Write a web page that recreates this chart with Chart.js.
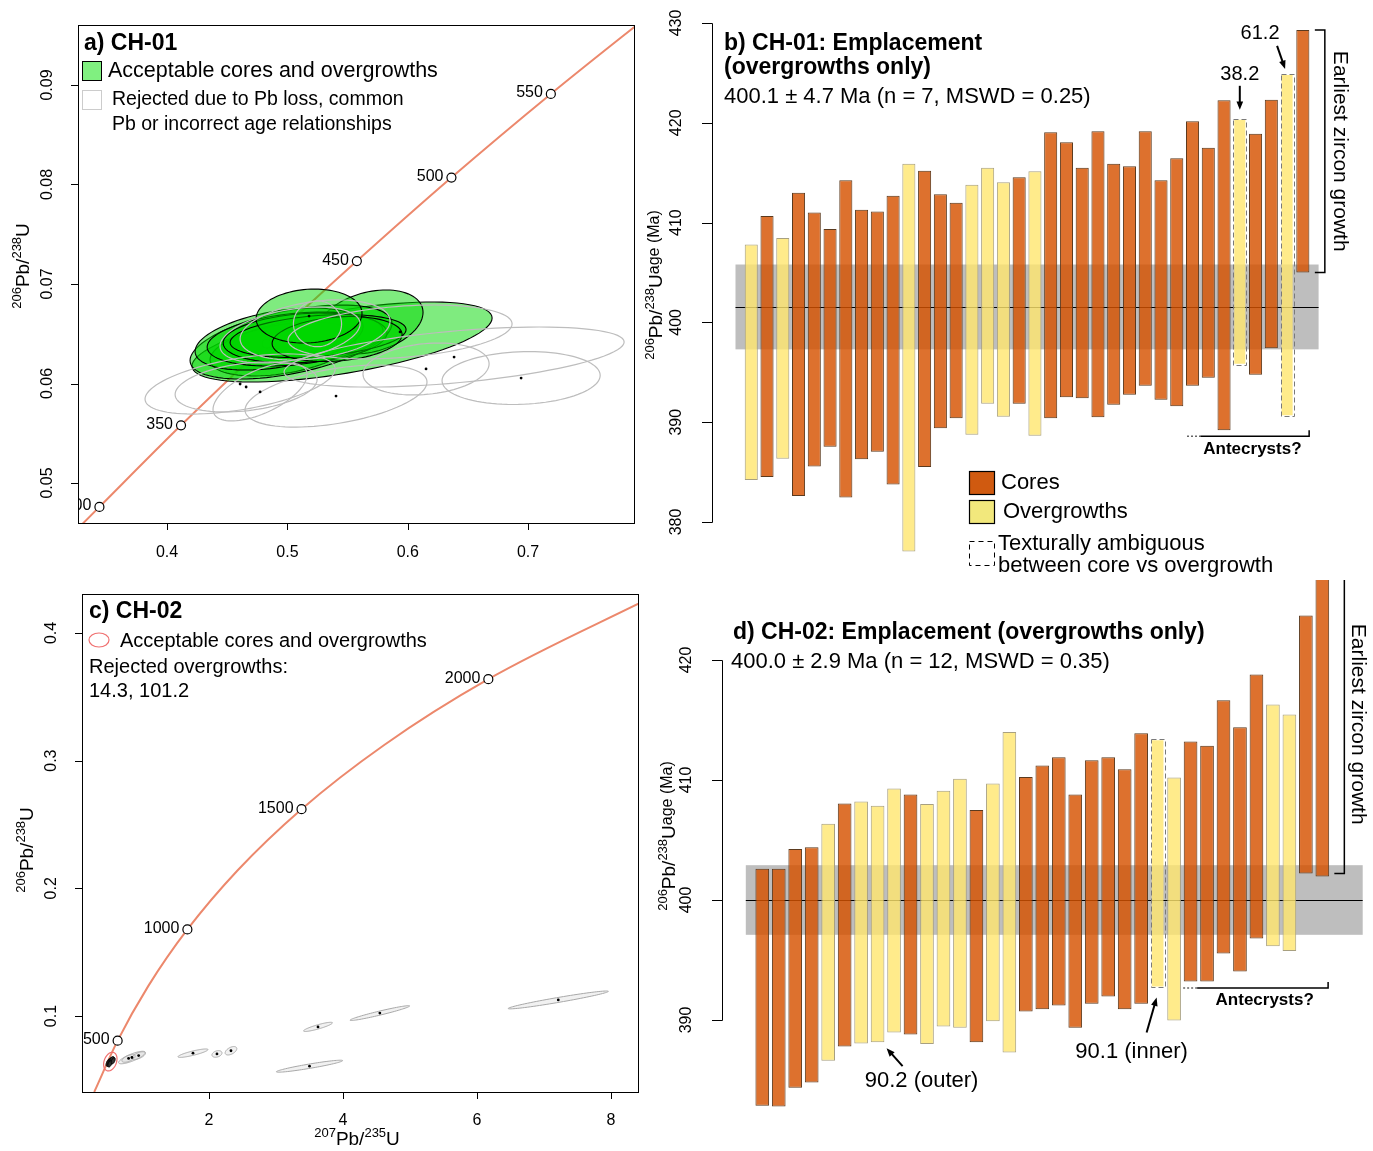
<!DOCTYPE html>
<html lang="en">
<head>
<meta charset="utf-8">
<title>CH-01 / CH-02 zircon U-Pb</title>
<script src="https://cdn.jsdelivr.net/npm/chart.js@4.4.1/dist/chart.umd.min.js"></script>
<style>
  body { margin: 0; background: #fff; width: 1373px; height: 1151px; overflow: hidden; position: relative; }
  canvas { position: absolute; }
</style>
</head>
<body>
<canvas id="chartA" width="650" height="580" style="left:0;top:0"></canvas>
<canvas id="chartC" width="650" height="571" style="left:0;top:580px"></canvas>
<canvas id="chartB" width="733" height="585" style="left:640px;top:0"></canvas>
<canvas id="chartD" width="733" height="571" style="left:640px;top:580px"></canvas>
<script>
// ---- a) CH-01 concordia ----
const concAgesA = [280, 300, 350, 400, 450, 500, 550, 600];
const concXA = [0.3175, 0.3438, 0.4116, 0.4828, 0.5577, 0.6363, 0.7189, 0.8056];
const concYA = [0.0444, 0.0476, 0.0558, 0.0640, 0.0723, 0.0807, 0.0891, 0.0975];
const markAgesA = [300, 350, 400, 450, 500, 550];
const ticksAX = [0.4, 0.5, 0.6, 0.7];
const ticksAY = [0.05, 0.06, 0.07, 0.08, 0.09];
// ellipses: [207Pb/235U, 206Pb/238U, half width, half height, correlation]
const acceptedA = [
  [0.5454, 0.06417, 0.1247, 0.00402, 0.6],
  [0.5687, 0.06618, 0.0440, 0.00322, 0.3],
  [0.4964, 0.06347, 0.0607, 0.00271, 0.4],
  [0.5030, 0.06417, 0.0839, 0.00372, 0.5],
  [0.4931, 0.06447, 0.0698, 0.00312, 0.4],
  [0.5064, 0.06447, 0.0731, 0.00271, 0.3],
  [0.5147, 0.06457, 0.0681, 0.00251, 0.2],
  [0.5255, 0.06477, 0.0731, 0.00216, 0.3],
  [0.5413, 0.06447, 0.0540, 0.00226, 0.2],
  [0.5180, 0.06678, 0.0440, 0.00271, 0.1]
];
const rejectedA = [
  [0.4607, 0.05995, 0.0790, 0.00302, 0.5],
  [0.5404, 0.05874, 0.0756, 0.00312, 0.45],
  [0.4657, 0.05965, 0.0590, 0.00251, 0.3],
  [0.4773, 0.05915, 0.0391, 0.00291, 0.6],
  [0.6152, 0.06146, 0.0524, 0.00261, 0.2],
  [0.6942, 0.06055, 0.0657, 0.00266, 0.1],
  [0.6385, 0.06266, 0.1413, 0.00302, 0.5],
  [0.5936, 0.06518, 0.0931, 0.00271, 0.3],
  [0.5230, 0.06538, 0.0623, 0.00302, 0.3],
  [0.5022, 0.06487, 0.0582, 0.00281, 0.4],
  [0.5250, 0.06600, 0.0200, 0.00230, 0.0]
];

// ---- b) CH-01 ages ----
const typeB = ['o','c','o','c','c','c','c','c','c','c','o','c','c','c','o','o','o','c','o','c',
               'c','c','c','c','c','c','c','c','c','c','c','a','c','c','a','c'];
const lowB = [384.2, 384.5, 386.35, 382.6, 385.55, 387.55, 382.45, 386.3, 387.05, 383.75, 377.05, 385.5,
              389.4, 390.4, 388.75, 391.85, 390.55, 391.85, 388.65, 390.4, 392.5, 392.4, 390.5, 391.75,
              392.75, 393.65, 392.25, 391.6, 393.65, 394.45, 389.2, 395.75, 394.75, 397.4, 390.6, 405.0];
const highB = [407.8, 410.65, 408.45, 413.0, 411.0, 409.35, 414.25, 411.3, 411.1, 412.7, 415.9, 415.2,
               412.85, 412.0, 413.8, 415.5, 414.05, 414.55, 415.15, 419.05, 418.05, 415.5, 419.15, 415.9,
               415.65, 419.15, 414.25, 416.45, 420.15, 417.5, 422.25, 420.4, 418.9, 422.3, 424.9, 429.3];
const meanB = 401.55;
const bandB = [397.3, 405.8];
const ticksB = [380, 390, 400, 410, 420, 430];

// ---- c) CH-02 concordia ----
const concAgesC = [256, 500, 750, 1000, 1250, 1500, 1750, 2000, 2300];
const concXC = [0.2868, 0.6363, 1.0930, 1.6774, 2.4250, 3.3812, 4.6044, 6.1691, 8.633];
const concYC = [0.0405, 0.0807, 0.1234, 0.1678, 0.2140, 0.2620, 0.3119, 0.3638, 0.4287];
const markAgesC = [500, 1000, 1500, 2000];
const ticksCX = [2, 4, 6, 8];
const ticksCY = [0.1, 0.2, 0.3, 0.4];
const acceptedC = [
  [0.50, 0.0635, 0.035, 0.0030, 0.5],
  [0.53, 0.0645, 0.040, 0.0032, 0.5],
  [0.55, 0.0655, 0.035, 0.0028, 0.5],
  [0.52, 0.0625, 0.030, 0.0025, 0.5],
  [0.57, 0.0650, 0.030, 0.0025, 0.5]
];
const envelopeC = [0.527, 0.0643, 0.10, 0.0073, 0.3];
const rejectedC = [
  [7.213, 0.1126, 0.748, 0.0070, 0.96],
  [4.55, 0.1023, 0.445, 0.0058, 0.96],
  [3.627, 0.0915, 0.216, 0.0036, 0.88],
  [3.50, 0.0607, 0.495, 0.0047, 0.93],
  [1.761, 0.0709, 0.224, 0.0033, 0.85],
  [2.119, 0.0703, 0.075, 0.0026, 0.3],
  [2.328, 0.0728, 0.087, 0.0033, 0.5],
  [0.85, 0.0675, 0.20, 0.0049, 0.8],
  [0.80, 0.0668, 0.10, 0.0030, 0.6],
  [0.95, 0.0690, 0.10, 0.0030, 0.6]
];

// ---- d) CH-02 ages ----
const typeD = ['c','c','c','c','o','c','o','o','o','c','o','o','o','c','o','o','c','c','c','c',
               'c','c','c','c','a','o','c','c','c','c','c','o','o','c','c'];
const lowD = [382.85, 382.8, 384.35, 384.8, 386.6, 387.8, 388.05, 388.15, 388.95, 388.8, 388.0, 389.45,
              389.35, 388.15, 389.9, 387.3, 390.7, 390.9, 391.2, 389.35, 391.35, 391.95, 390.9, 391.35,
              392.7, 389.95, 393.2, 393.2, 395.55, 394.05, 396.8, 396.15, 395.75, 402.2, 401.95];
const highD = [402.6, 402.6, 404.25, 404.4, 406.35, 408.05, 408.2, 407.85, 409.3, 408.8, 408.0, 409.1,
               410.1, 407.5, 409.7, 414.0, 410.25, 411.2, 411.9, 408.8, 411.65, 411.9, 410.9, 413.9,
               413.4, 410.2, 413.2, 412.85, 416.65, 414.4, 418.8, 416.3, 415.45, 423.7, 427.1];
const meanD = 400.0;
const bandD = [397.1, 402.9];
const ticksD = [390, 400, 410, 420];

const FONT = "'Liberation Sans', Arial, Helvetica, sans-serif";
const TICK_SIZE = 16;
const CORE_FILL = 'rgba(214, 82, 0, 0.82)';
const CORE_EDGE = '#5b3a1e';
const OG_FILL = 'rgba(255, 230, 110, 0.8)';
const OG_EDGE = '#a8a080';
const CONC = 'rgb(236, 136, 108)';

function txt(ctx, s, x, y, size, opts) {
  opts = opts || {};
  ctx.save();
  ctx.font = (opts.bold ? 'bold ' : '') + size + 'px ' + FONT;
  ctx.fillStyle = opts.color || '#000';
  ctx.textAlign = opts.align || 'left';
  ctx.textBaseline = 'middle';
  ctx.translate(x, y);
  if (opts.rot) ctx.rotate(opts.rot);
  ctx.fillText(s, 0, 0);
  ctx.restore();
}

// axis title with superscripts, centred on (x, y); parts = [text, size, raise]
function ratioLabel(ctx, parts, x, y, rot) {
  ctx.save();
  ctx.translate(x, y);
  if (rot) ctx.rotate(rot);
  ctx.textBaseline = 'alphabetic';
  ctx.fillStyle = '#000';
  let w = 0;
  const ws = parts.map(p => {
    ctx.font = p[1] + 'px ' + FONT;
    const m = ctx.measureText(p[0]).width;
    w += m;
    return m;
  });
  let cx = -w / 2;
  parts.forEach((p, i) => {
    ctx.font = p[1] + 'px ' + FONT;
    ctx.fillText(p[0], cx, 7 - p[2]);
    cx += ws[i];
  });
  ctx.restore();
}
const PB206 = [['206', 13, 8], ['Pb/', 19, 0], ['238', 13, 8], ['U', 19, 0]];
const PB207 = [['207', 13, 8], ['Pb/', 19, 0], ['235', 13, 8], ['U', 19, 0]];
const AGE_TITLE = PB206.concat([['age (Ma)', 16, 3]]);

// R style axes
function yAxisR(ctx, scale, ticks, xLine, labelX, len, withLine) {
  ctx.save();
  ctx.strokeStyle = '#000';
  ctx.lineWidth = 1;
  ctx.beginPath();
  if (withLine) {
    ctx.moveTo(xLine + 0.5, Math.round(scale.getPixelForValue(ticks[0])) + 0.5);
    ctx.lineTo(xLine + 0.5, Math.round(scale.getPixelForValue(ticks[ticks.length - 1])) + 0.5);
  }
  ticks.forEach(v => {
    const py = Math.round(scale.getPixelForValue(v)) + 0.5;
    ctx.moveTo(xLine - len, py);
    ctx.lineTo(xLine + 0.5, py);
  });
  ctx.stroke();
  ctx.restore();
  ticks.forEach(v => txt(ctx, String(v), labelX, scale.getPixelForValue(v), TICK_SIZE, {align: 'center', rot: -Math.PI / 2}));
}
function xAxisR(ctx, scale, ticks, yLine, labelY) {
  ctx.save();
  ctx.strokeStyle = '#000';
  ctx.lineWidth = 1;
  ctx.beginPath();
  ticks.forEach(v => {
    const px = Math.round(scale.getPixelForValue(v)) + 0.5;
    ctx.moveTo(px, yLine);
    ctx.lineTo(px, yLine + 7);
  });
  ctx.stroke();
  ctx.restore();
  ticks.forEach(v => txt(ctx, String(v), scale.getPixelForValue(v), labelY, TICK_SIZE, {align: 'center'}));
}
function box(ctx, a) {
  ctx.save();
  ctx.strokeStyle = '#000';
  ctx.lineWidth = 1;
  ctx.strokeRect(Math.round(a.left) + 0.5, Math.round(a.top) + 0.5, Math.round(a.right - a.left), Math.round(a.bottom - a.top));
  ctx.restore();
}

function ellipsePath(ctx, xs, ys, e) {
  const [cx, cy, rx, ry, rho] = e;
  const s = Math.sqrt(1 - rho * rho);
  ctx.beginPath();
  for (let k = 0; k <= 90; k++) {
    const t = k / 90 * 2 * Math.PI;
    const px = xs.getPixelForValue(cx + rx * Math.cos(t));
    const py = ys.getPixelForValue(cy + ry * (rho * Math.cos(t) + s * Math.sin(t)));
    if (k) ctx.lineTo(px, py); else ctx.moveTo(px, py);
  }
  ctx.closePath();
}
function centreDots(ctx, xs, ys, list) {
  ctx.fillStyle = '#000';
  list.forEach(e => {
    ctx.beginPath();
    ctx.arc(xs.getPixelForValue(e[0]), ys.getPixelForValue(e[1]), 1.4, 0, 2 * Math.PI);
    ctx.fill();
  });
}
function ageLabels(ctx, xs, ys, ages, concAges, cx, cy) {
  ages.forEach(age => {
    const i = concAges.indexOf(age);
    txt(ctx, String(age), xs.getPixelForValue(cx[i]) - 8, ys.getPixelForValue(cy[i]) - 1, 16, {align: 'right'});
  });
}
function concordiaChart(id, ages, cx, cy, marks, xr, yr, pad, deco) {
  return new Chart(document.getElementById(id), {
    type: 'scatter',
    data: {
      datasets: [{
        data: marks.map(a => ({x: cx[ages.indexOf(a)], y: cy[ages.indexOf(a)]})),
        pointRadius: 4.5,
        pointBackgroundColor: '#fff',
        pointBorderColor: '#000',
        pointBorderWidth: 1.2
      }, {
        data: ages.map((a, i) => ({x: cx[i], y: cy[i]})),
        showLine: true,
        pointRadius: 0,
        borderColor: CONC,
        borderWidth: 2,
        cubicInterpolationMode: 'monotone'
      }]
    },
    options: {
      responsive: false, animation: false, events: [],
      layout: {padding: pad},
      plugins: {legend: {display: false}, tooltip: {enabled: false}},
      scales: {
        x: {type: 'linear', min: xr[0], max: xr[1], display: false},
        y: {type: 'linear', min: yr[0], max: yr[1], display: false}
      }
    },
    plugins: [deco]
  });
}

// ---- bar panels ----
function drawBand(chart, band, mean) {
  const {ctx, chartArea: a, scales: {y}} = chart;
  ctx.save();
  ctx.fillStyle = '#BEBEBE';
  const y1 = y.getPixelForValue(band[1]), y0 = y.getPixelForValue(band[0]);
  ctx.fillRect(a.left, y1, a.right - a.left, y0 - y1);
  ctx.strokeStyle = '#000';
  ctx.lineWidth = 1;
  const ym = Math.round(y.getPixelForValue(mean)) + 0.5;
  ctx.beginPath();
  ctx.moveTo(a.left, ym);
  ctx.lineTo(a.right, ym);
  ctx.stroke();
  ctx.restore();
}
function dashedBars(chart, types) {
  const ctx = chart.ctx;
  const meta = chart.getDatasetMeta(0);
  ctx.save();
  ctx.strokeStyle = '#7a7a7a';
  ctx.lineWidth = 1;
  ctx.setLineDash([5, 3]);
  types.forEach((t, i) => {
    if (t !== 'a') return;
    const el = meta.data[i];
    const top = Math.min(el.y, el.base), h = Math.abs(el.base - el.y);
    ctx.strokeRect(Math.round(el.x - el.width / 2) + 0.5, Math.round(top) + 0.5, Math.round(el.width), Math.round(h));
  });
  ctx.restore();
}
function arrow(ctx, x1, y1, x2, y2) {
  const ang = Math.atan2(y2 - y1, x2 - x1), L = 9;
  ctx.save();
  ctx.strokeStyle = '#000';
  ctx.fillStyle = '#000';
  ctx.lineWidth = 2;
  ctx.beginPath();
  ctx.moveTo(x1, y1);
  ctx.lineTo(x2 - Math.cos(ang) * 5, y2 - Math.sin(ang) * 5);
  ctx.stroke();
  ctx.beginPath();
  ctx.moveTo(x2, y2);
  ctx.lineTo(x2 - L * Math.cos(ang - 0.38), y2 - L * Math.sin(ang - 0.38));
  ctx.lineTo(x2 - L * Math.cos(ang + 0.38), y2 - L * Math.sin(ang + 0.38));
  ctx.closePath();
  ctx.fill();
  ctx.restore();
}
function vBracket(ctx, x, y1, y2, dx) {
  ctx.save();
  ctx.strokeStyle = '#000';
  ctx.lineWidth = 1.5;
  ctx.beginPath();
  ctx.moveTo(x - 10, y1);
  ctx.lineTo(x, y1);
  ctx.lineTo(x, y2);
  ctx.lineTo(x - 10, y2);
  ctx.stroke();
  ctx.restore();
  txt(ctx, 'Earliest zircon growth', x + dx, (y1 + y2) / 2, 21, {align: 'center', rot: Math.PI / 2});
}
function antecrysts(ctx, xDot, xStart, xEnd, yLine, yTick, tx, ty) {
  ctx.save();
  ctx.lineWidth = 1.5;
  ctx.strokeStyle = '#666';
  ctx.setLineDash([2, 2]);
  ctx.beginPath();
  ctx.moveTo(xDot, yLine);
  ctx.lineTo(xStart, yLine);
  ctx.stroke();
  ctx.setLineDash([]);
  ctx.strokeStyle = '#000';
  ctx.beginPath();
  ctx.moveTo(xStart, yLine);
  ctx.lineTo(xEnd, yLine);
  ctx.lineTo(xEnd, yTick);
  ctx.stroke();
  ctx.restore();
  txt(ctx, 'Antecrysts?', tx, ty, 17, {bold: true, align: 'center'});
}
function barChart(id, low, high, types, xMax, yr, pad, deco) {
  return new Chart(document.getElementById(id), {
    type: 'bar',
    data: {
      datasets: [{
        data: low.map((lo, i) => ({x: i + 1, y: [lo, high[i]]})),
        backgroundColor: types.map(t => t === 'c' ? CORE_FILL : OG_FILL),
        borderColor: types.map(t => t === 'c' ? CORE_EDGE : t === 'o' ? OG_EDGE : 'rgba(0,0,0,0)'),
        borderWidth: 1,
        borderSkipped: false,
        barPercentage: 0.83,
        categoryPercentage: 1,
        clip: false
      }]
    },
    options: {
      responsive: false, animation: false, events: [],
      layout: {padding: pad},
      plugins: {legend: {display: false}, tooltip: {enabled: false}},
      scales: {
        x: {type: 'linear', min: 0, max: xMax, offset: false, display: false},
        y: {type: 'linear', min: yr[0], max: yr[1], display: false}
      }
    },
    plugins: [deco]
  });
}

// a) CH-01 concordia
concordiaChart('chartA', concAgesA, concXA, concYA, markAgesA, [0.326, 0.788], [0.04598, 0.09603],
  {left: 78, top: 25, right: 16, bottom: 57}, {
  id: 'decoA',
  afterDatasetsDraw(chart) {
    const {ctx, chartArea: a, scales: {x, y}} = chart;
    ctx.save();
    ctx.beginPath();
    ctx.rect(a.left, a.top, a.right - a.left, a.bottom - a.top);
    ctx.clip();
    acceptedA.forEach(e => {
      ellipsePath(ctx, x, y, e);
      ctx.fillStyle = 'rgba(0, 215, 0, 0.5)';
      ctx.fill();
      ctx.strokeStyle = '#000';
      ctx.lineWidth = 1.1;
      ctx.stroke();
    });
    rejectedA.forEach(e => {
      ellipsePath(ctx, x, y, e);
      ctx.strokeStyle = '#BDBDBD';
      ctx.lineWidth = 1.2;
      ctx.stroke();
    });
    centreDots(ctx, x, y, rejectedA.slice(0, 8));
    centreDots(ctx, x, y, acceptedA.slice(9));
    ageLabels(ctx, x, y, [300, 350, 450, 500, 550], concAgesA, concXA, concYA);
    ctx.restore();
    box(ctx, a);
    xAxisR(ctx, x, ticksAX, a.bottom, 553);
    yAxisR(ctx, y, ticksAY, a.left, 48, 7, false);
    ratioLabel(ctx, PB206, 22, 266, -Math.PI / 2);
    txt(ctx, 'a) CH-01', 84, 44, 23, {bold: true});
    ctx.save();
    ctx.fillStyle = '#80F080';
    ctx.fillRect(82, 61, 19, 19);
    ctx.strokeStyle = '#000';
    ctx.strokeRect(82.5, 61.5, 19, 19);
    ctx.strokeStyle = '#CCCCCC';
    ctx.strokeRect(82.5, 90.5, 19, 19);
    ctx.restore();
    txt(ctx, 'Acceptable cores and overgrowths', 108, 71, 21.5);
    txt(ctx, 'Rejected due to Pb loss, common', 112, 100, 19.5);
    txt(ctx, 'Pb or incorrect age relationships', 112, 125, 19.5);
  }
});

// c) CH-02 concordia
concordiaChart('chartC', concAgesC, concXC, concYC, markAgesC, [0.1045, 8.403], [0.0405, 0.4305],
  {left: 82, top: 14, right: 12, bottom: 59}, {
  id: 'decoC',
  afterDatasetsDraw(chart) {
    const {ctx, chartArea: a, scales: {x, y}} = chart;
    ctx.save();
    ctx.beginPath();
    ctx.rect(a.left, a.top, a.right - a.left, a.bottom - a.top);
    ctx.clip();
    rejectedC.forEach(e => {
      ellipsePath(ctx, x, y, e);
      ctx.fillStyle = 'rgba(200, 200, 200, 0.25)';
      ctx.fill();
      ctx.strokeStyle = '#A8A8A8';
      ctx.lineWidth = 1;
      ctx.stroke();
    });
    acceptedC.forEach(e => {
      ellipsePath(ctx, x, y, e);
      ctx.fillStyle = '#333';
      ctx.fill();
      ctx.strokeStyle = '#000';
      ctx.lineWidth = 1;
      ctx.stroke();
    });
    ellipsePath(ctx, x, y, envelopeC);
    ctx.strokeStyle = '#F07070';
    ctx.lineWidth = 1.2;
    ctx.stroke();
    centreDots(ctx, x, y, rejectedC);
    ageLabels(ctx, x, y, markAgesC, concAgesC, concXC, concYC);
    ctx.restore();
    box(ctx, a);
    xAxisR(ctx, x, ticksCX, a.bottom, 541);
    yAxisR(ctx, y, ticksCY, a.left, 52, 7, false);
    ratioLabel(ctx, PB206, 26, 270, -Math.PI / 2);
    ratioLabel(ctx, PB207, 357, 558, 0);
    txt(ctx, 'c) CH-02', 89, 32, 23, {bold: true});
    ctx.save();
    ctx.strokeStyle = '#F07070';
    ctx.lineWidth = 1.2;
    ctx.beginPath();
    ctx.ellipse(99, 60, 10, 7, 0, 0, 2 * Math.PI);
    ctx.stroke();
    ctx.restore();
    txt(ctx, 'Acceptable cores and overgrowths', 120, 61, 20);
    txt(ctx, 'Rejected overgrowths:', 89, 87, 20);
    txt(ctx, '14.3, 101.2', 89, 111, 20);
  }
});

// b) CH-01 206Pb/238U ages
barChart('chartB', lowB, highB, typeB, 37, [380, 430], {left: 95.5, top: 23, right: 54.4, bottom: 63}, {
  id: 'decoB',
  beforeDatasetsDraw(chart) { drawBand(chart, bandB, meanB); },
  afterDatasetsDraw(chart) {
    const {ctx, scales: {x, y}} = chart;
    dashedBars(chart, typeB);
    yAxisR(ctx, y, ticksB, 72, 37, 10, true);
    ratioLabel(ctx, AGE_TITLE, 15, 285, -Math.PI / 2);
    txt(ctx, 'b) CH-01: Emplacement', 84, 44, 23, {bold: true});
    txt(ctx, '(overgrowths only)', 84, 68, 23, {bold: true});
    txt(ctx, '400.1 \u00b1 4.7 Ma (n = 7, MSWD = 0.25)', 84, 97, 22);
    // labelled antecryst-candidate bars
    const p32 = x.getPixelForValue(32), t32 = y.getPixelForValue(highB[31]);
    txt(ctx, '38.2', p32, t32 - 44, 20, {align: 'center'});
    arrow(ctx, p32, t32 - 33, p32, t32 - 9);
    const p35 = x.getPixelForValue(35), t35 = y.getPixelForValue(highB[34]);
    txt(ctx, '61.2', p35 - 27, t35 - 40, 20, {align: 'center'});
    arrow(ctx, p35 - 10, t35 - 28, p35 - 2, t35 - 5);
    vBracket(ctx, x.getPixelForValue(36) + 22, y.getPixelForValue(highB[35]), y.getPixelForValue(lowB[35]), 15);
    antecrysts(ctx, x.getPixelForValue(28.65), x.getPixelForValue(29.5), x.getPixelForValue(36.4),
      y.getPixelForValue(388.6), y.getPixelForValue(389.2), x.getPixelForValue(32.8), y.getPixelForValue(387.3));
    // legend
    ctx.save();
    ctx.strokeStyle = '#000';
    ctx.lineWidth = 1.2;
    ctx.fillStyle = '#D05A10';
    ctx.fillRect(329, 471, 25, 23);
    ctx.strokeRect(329.5, 471.5, 25, 23);
    ctx.fillStyle = '#F2E87C';
    ctx.fillRect(329, 500, 25, 23);
    ctx.strokeRect(329.5, 500.5, 25, 23);
    ctx.setLineDash([5, 4]);
    ctx.lineWidth = 1;
    ctx.strokeRect(329.5, 541.5, 25, 24);
    ctx.restore();
    txt(ctx, 'Cores', 361, 483, 22);
    txt(ctx, 'Overgrowths', 363, 512, 22);
    txt(ctx, 'Texturally ambiguous', 358, 544, 22);
    txt(ctx, 'between core vs overgrowth', 358, 566, 22);
  }
});

// d) CH-02 206Pb/238U ages
barChart('chartD', lowD, highD, typeD, 37.45, [390, 420], {left: 105.8, top: 80, right: 10.3, bottom: 131}, {
  id: 'decoD',
  beforeDatasetsDraw(chart) { drawBand(chart, bandD, meanD); },
  afterDatasetsDraw(chart) {
    const {ctx, scales: {x, y}} = chart;
    dashedBars(chart, typeD);
    yAxisR(ctx, y, ticksD, 82, 47, 10, true);
    ratioLabel(ctx, AGE_TITLE, 28, 256, -Math.PI / 2);
    txt(ctx, 'd) CH-02: Emplacement (overgrowths only)', 93, 53, 23, {bold: true});
    txt(ctx, '400.0 \u00b1 2.9 Ma (n = 12, MSWD = 0.35)', 91, 82, 22);
    const p8 = x.getPixelForValue(8), b8 = y.getPixelForValue(lowD[7]);
    arrow(ctx, p8 + 25, b8 + 24, p8 + 9, b8 + 6);
    txt(ctx, '90.2 (outer)', p8 + 44, b8 + 39, 22, {align: 'center'});
    const p25 = x.getPixelForValue(25), b25 = y.getPixelForValue(lowD[24]);
    arrow(ctx, p25 - 11, b25 + 45, p25 - 1, b25 + 10);
    txt(ctx, '90.1 (inner)', p25 - 26, b25 + 64, 22, {align: 'center'});
    vBracket(ctx, x.getPixelForValue(35) + 22, y.getPixelForValue(highD[34]), y.getPixelForValue(lowD[33]), 13);
    antecrysts(ctx, x.getPixelForValue(26.55), x.getPixelForValue(27.4), x.getPixelForValue(35.35),
      y.getPixelForValue(392.67), y.getPixelForValue(393.17), x.getPixelForValue(31.5), y.getPixelForValue(391.67));
  }
});
</script>
</body>
</html>
